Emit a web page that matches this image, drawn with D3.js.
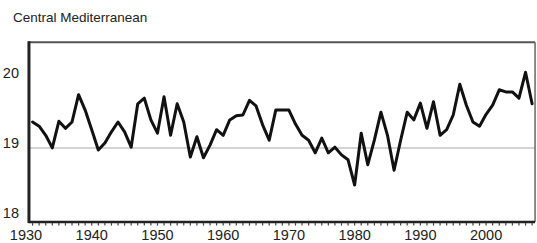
<!doctype html>
<html lang="en">
  <head>
    <meta charset="utf-8">
    <title>Central Mediterranean</title>
    <style>
        body { margin: 0; background: #fff; }
        text { font-family: "Liberation Sans", Arial, sans-serif; fill: #222; }
        .series { fill: none; stroke: #111; stroke-width: 3px; stroke-linejoin: round; stroke-linecap: round; }
        .meanline { stroke: #c4c4c4; stroke-width: 1.5px; }
    </style>
  </head>
  <body>
    <svg width="537" height="243"></svg>
    <script src="https://d3js.org/d3.v7.min.js"></script>
    <script>
        // annual mean temperature, deg C
        var years = d3.range(1931, 2008);
        var temps = [
            19.30, 19.24, 19.11, 18.93, 19.31, 19.21, 19.30, 19.69, 19.47,          // 1931-39
            19.19, 18.90, 19.00, 19.16, 19.30, 19.16, 18.94, 19.56, 19.64, 19.33,   // 1940-49
            19.14, 19.66, 19.11, 19.56, 19.30, 18.80, 19.09, 18.79, 18.97, 19.19,   // 1950-59
            19.11, 19.33, 19.39, 19.40, 19.61, 19.53, 19.26, 19.04, 19.47, 19.47,   // 1960-69
            19.47, 19.27, 19.11, 19.04, 18.86, 19.07, 18.86, 18.94, 18.83, 18.76,   // 1970-79
            18.40, 19.14, 18.69, 19.04, 19.44, 19.11, 18.61, 19.04, 19.44, 19.33,   // 1980-89
            19.57, 19.21, 19.59, 19.11, 19.19, 19.40, 19.84, 19.54, 19.30, 19.24,   // 1990-99
            19.41, 19.54, 19.76, 19.73, 19.73, 19.64, 20.01, 19.56                  // 2000-07
        ];
        var yTicks = [18, 19, 20];
        var xTicks = [1930, 1940, 1950, 1960, 1970, 1980, 1990, 2000];
        var meanValue = 18.93;
        var title = "Central Mediterranean";

        var data = years.map((y, i) => ({year: y, value: temps[i]}));

        var svg = d3.select("svg");

        var x = d3.scaleLinear().domain([1930, 2007]).range([26, 532.1]);
        var y = d3.scaleLinear().domain([18, 20]).range([213, 73]);

        var plotLeft = x(1930.45), plotRight = x(2007.45);
        var plotTop = y(20.44), plotBottom = y(17.87);

        svg.append("text")
            .attr("x", 13)
            .attr("y", 22)
            .style("font-size", "13.5px")
            .text(title);

        // mean reference line
        svg.append("line")
            .attr("class", "meanline")
            .attr("x1", plotLeft).attr("x2", plotRight)
            .attr("y1", y(meanValue)).attr("y2", y(meanValue));

        var line = d3.line()
            .x(d => x(d.year))
            .y(d => y(d.value));

        svg.append("path")
            .datum(data)
            .attr("class", "series")
            .attr("d", line);

        // frame: heavy left and bottom, lighter top and right
        svg.append("line")
            .attr("x1", plotLeft).attr("x2", plotRight).attr("y1", plotTop).attr("y2", plotTop)
            .attr("stroke", "#555").attr("stroke-width", 2);
        svg.append("line")
            .attr("x1", plotRight).attr("x2", plotRight).attr("y1", plotTop).attr("y2", plotBottom)
            .attr("stroke", "#666").attr("stroke-width", 1.5);
        svg.append("line")
            .attr("x1", plotLeft).attr("x2", plotLeft).attr("y1", plotTop - 1).attr("y2", plotBottom + 1)
            .attr("stroke", "#222").attr("stroke-width", 3);
        svg.append("line")
            .attr("x1", plotLeft).attr("x2", plotRight).attr("y1", plotBottom).attr("y2", plotBottom)
            .attr("stroke", "#222").attr("stroke-width", 2.5);

        // yearly minor ticks under the bottom edge
        svg.append("g")
            .selectAll("line")
            .data(d3.range(1931, 2008))
            .enter().append("line")
            .attr("x1", d => x(d)).attr("x2", d => x(d))
            .attr("y1", plotBottom + 1).attr("y2", plotBottom + 3.5)
            .attr("stroke", "#444").attr("stroke-width", 1.2);

        svg.append("g")
            .selectAll("text")
            .data(yTicks)
            .enter().append("text")
            .attr("x", 19)
            .attr("y", d => y(d))
            .attr("dy", "0.36em")
            .style("text-anchor", "end")
            .style("font-size", "14.5px")
            .text(d => d);

        svg.append("g")
            .selectAll("text")
            .data(xTicks)
            .enter().append("text")
            .attr("x", d => x(d))
            .attr("y", 240)
            .style("text-anchor", "middle")
            .style("font-size", "14.5px")
            .text(d => d);
    </script>
  </body>
</html>
